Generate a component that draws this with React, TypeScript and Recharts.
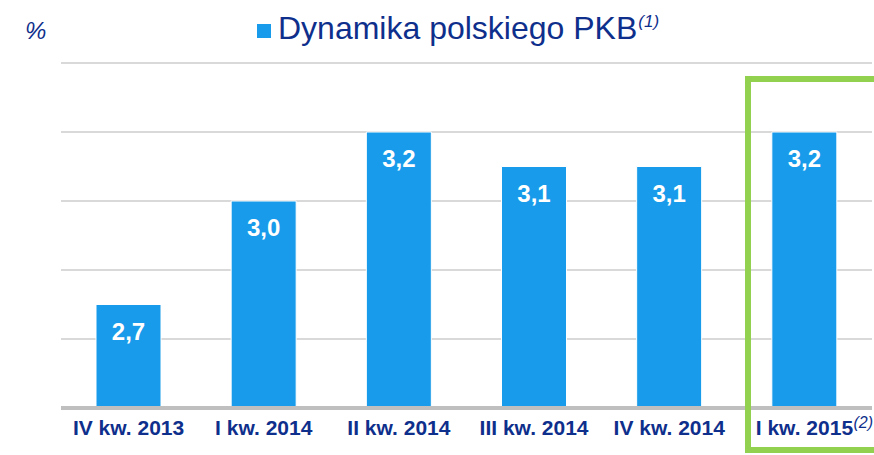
import { BarChart, Bar, XAxis, YAxis, CartesianGrid, LabelList } from "recharts";

const categories = [
  "IV kw. 2013",
  "I kw. 2014",
  "II kw. 2014",
  "III kw. 2014",
  "IV kw. 2014",
  "I kw. 2015",
];
const gdpValues = [2.7, 3.0, 3.2, 3.1, 3.1, 3.2];
const tickFootnotes = ["", "", "", "", "", "(2)"];
const gridTicks = [2.4, 2.6, 2.8, 3.0, 3.2, 3.4];

const data = categories.map((name, i) => ({
  name,
  value: gdpValues[i],
}));

const FONT = "'Liberation Sans', Arial, sans-serif";
const DARK_BLUE = "#0f2f8c";
const BAR_BLUE = "#179bea";

const renderTick = (props: any) => {
  const { x, y, payload, index } = props;
  const note = tickFootnotes[index];
  return (
    <g>
      <text
        x={x}
        y={y}
        dy="0.71em"
        textAnchor="middle"
        fill={DARK_BLUE}
        fontSize={21}
        fontWeight="bold"
        fontFamily={FONT}
      >
        {payload.value}
      </text>
      {note && (
        <text
          x={x + 49}
          y={y - 3}
          dy="0.71em"
          textAnchor="start"
          fill={DARK_BLUE}
          fontSize={16}
          fontStyle="italic"
          fontFamily={FONT}
        >
          {note}
        </text>
      )}
    </g>
  );
};

const App = () => {
  return (
    <div
      style={{
        position: "absolute",
        left: 0,
        top: 0,
        width: 874,
        height: 455,
        background: "#fff",
        overflow: "hidden",
        fontFamily: FONT,
      }}
    >
      <div
        style={{
          position: "absolute",
          left: 25,
          top: 17,
          fontSize: 24,
          fontStyle: "italic",
          color: DARK_BLUE,
        }}
      >
        %
      </div>
      <div
        style={{
          position: "absolute",
          left: 257,
          top: 10,
          display: "flex",
          alignItems: "center",
          color: DARK_BLUE,
          whiteSpace: "nowrap",
        }}
      >
        <span
          style={{
            width: 14,
            height: 14,
            background: BAR_BLUE,
            display: "inline-block",
            marginRight: 7,
            marginTop: 4,
          }}
        />
        <span style={{ fontSize: 32 }}>
          Dynamika polskiego PKB
          <sup style={{ fontSize: 17, fontStyle: "italic", marginLeft: 1 }}>
            (1)
          </sup>
        </span>
      </div>

      <BarChart
        width={874}
        height={455}
        data={data}
        margin={{ top: 63, right: 2, bottom: 17, left: 61 }}
        style={{ position: "absolute", left: 0, top: 0 }}
      >
        <CartesianGrid vertical={false} stroke="#d9d9d9" strokeWidth={2} />
        <YAxis hide domain={[2.4, 3.4]} ticks={gridTicks} />
        <XAxis
          dataKey="name"
          tickLine={false}
          axisLine={{ stroke: "#bfbfbf", strokeWidth: 4 }}
          tickSize={6}
          tickMargin={6}
          interval={0}
          tick={renderTick}
        />
        <Bar
          dataKey="value"
          fill={BAR_BLUE}
          stroke="#ffffff"
          strokeWidth={1}
          barSize={65}
          isAnimationActive={false}
        >
          <LabelList
            dataKey="value"
            position="insideTop"
            offset={18}
            fill="#ffffff"
            fontSize={24}
            fontWeight="bold"
            fontFamily={FONT}
            formatter={(v: any) => Number(v).toFixed(1).replace(".", ",")}
          />
        </Bar>
      </BarChart>

      <div
        style={{
          position: "absolute",
          left: 745,
          top: 76,
          width: 140,
          height: 365,
          border: "6px solid #92d050",
          pointerEvents: "none",
        }}
      />
    </div>
  );
};

export default App;
